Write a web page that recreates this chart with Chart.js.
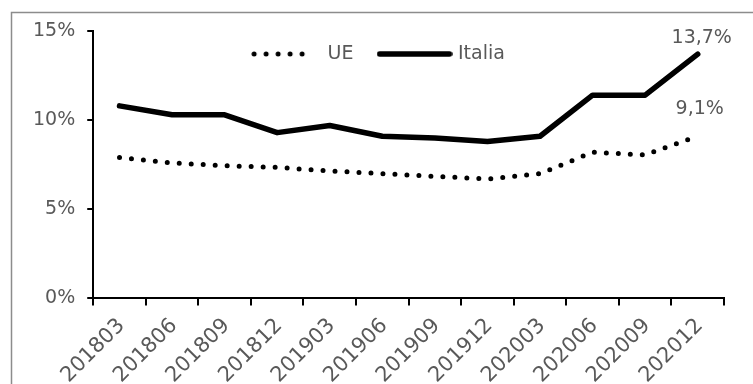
<!DOCTYPE html>
<html>
<head>
<meta charset="utf-8">
<script src="https://cdn.jsdelivr.net/npm/chart.js@4/dist/chart.umd.min.js"></script>
<style>
  html, body { margin: 0; padding: 0; background: #ffffff; }
  #wrap { position: relative; width: 753px; height: 384px; }
</style>
</head>
<body>
<div id="wrap"><canvas id="chart" width="753" height="384"></canvas></div>
<script>
// Quarterly rates, March 2018 to December 2020
const categories = ['201803', '201806', '201809', '201812', '201903', '201906',
                    '201909', '201912', '202003', '202006', '202009', '202012'];
const ueValues     = [7.9, 7.6, 7.45, 7.35, 7.15, 7.0, 6.85, 6.7, 7.0, 8.2, 8.05, 9.1];
const italiaValues = [10.8, 10.3, 10.3, 9.3, 9.7, 9.1, 9.0, 8.8, 9.1, 11.4, 11.4, 13.7];
const yTickValues  = [0, 5, 10, 15];

const textColor = '#595959';
const baseFont = { family: '"DejaVu Sans", sans-serif', size: 19 };
const xTickFont = { family: '"DejaVu Sans", sans-serif', size: 21 };

// Small line samples used as legend symbols
function lineSample(width, lineWidth, dash) {
  const c = document.createElement('canvas');
  c.width = width;
  c.height = 10;
  const g = c.getContext('2d');
  g.strokeStyle = '#000000';
  g.lineWidth = lineWidth;
  g.lineCap = 'round';
  g.setLineDash(dash);
  g.beginPath();
  g.moveTo(3, 5);
  g.lineTo(width - 3, 5);
  g.stroke();
  return c;
}
const ueSymbol = lineSample(66, 5, [0, 12]);
const italiaSymbol = lineSample(76, 5.5, []);

// Grey frame on the left and top edges
const framePlugin = {
  id: 'frame',
  beforeDraw(chart) {
    const ctx = chart.ctx;
    ctx.save();
    ctx.strokeStyle = '#8c8c8c';
    ctx.lineWidth = 1.5;
    ctx.beginPath();
    ctx.moveTo(11.5, chart.height + 5);
    ctx.lineTo(11.5, 12.5);
    ctx.lineTo(chart.width + 5, 12.5);
    ctx.stroke();
    ctx.restore();
  }
};

// Keep the legend row inside the plot, near its top
const legendPlacePlugin = {
  id: 'legendPlace',
  afterLayout(chart) {
    const lg = chart.legend;
    if (!lg) return;
    const pad = lg.options.labels.padding;
    lg.top = 54 - baseFont.size / 2 - pad;
    lg.bottom = lg.top + baseFont.size + 2 * pad + 4;
    lg.height = lg.bottom - lg.top;
    lg.left += 5;
    lg.right += 5;
  }
};

// Value labels on the last point of each series
const endLabelPlugin = {
  id: 'endLabels',
  afterDatasetsDraw(chart) {
    const ctx = chart.ctx;
    const shifts = [[2, -27], [4, -16]];
    ctx.save();
    ctx.font = baseFont.size + 'px ' + baseFont.family;
    ctx.fillStyle = textColor;
    ctx.textAlign = 'center';
    ctx.textBaseline = 'middle';
    chart.data.datasets.forEach((ds, i) => {
      const meta = chart.getDatasetMeta(i);
      const last = ds.data.length - 1;
      const pt = meta.data[last];
      const txt = ds.data[last].toFixed(1).replace('.', ',') + '%';
      ctx.fillText(txt, pt.x + shifts[i][0], pt.y + shifts[i][1]);
    });
    ctx.restore();
  }
};

new Chart(document.getElementById('chart'), {
  type: 'line',
  data: {
    labels: categories,
    datasets: [
      {
        label: 'UE',
        data: ueValues,
        borderColor: '#000000',
        backgroundColor: '#000000',
        borderWidth: 5,
        borderDash: [0, 12],
        borderCapStyle: 'round',
        borderJoinStyle: 'round',
        pointRadius: 0,
        pointStyle: ueSymbol,
        fill: false,
        tension: 0
      },
      {
        label: 'Italia',
        data: italiaValues,
        borderColor: '#000000',
        backgroundColor: '#000000',
        borderWidth: 5.5,
        borderCapStyle: 'round',
        borderJoinStyle: 'round',
        pointRadius: 0,
        pointStyle: italiaSymbol,
        fill: false,
        tension: 0
      }
    ]
  },
  options: {
    responsive: false,
    animation: false,
    devicePixelRatio: 1,
    layout: { padding: { left: 21, right: 29, top: 30, bottom: -12 } },
    plugins: {
      legend: {
        display: true,
        position: 'top',
        align: 'center',
        maxHeight: 1,
        labels: {
          usePointStyle: true,
          pointStyleWidth: 68,
          padding: 27,
          color: textColor,
          font: baseFont
        }
      },
      tooltip: { enabled: false }
    },
    scales: {
      x: {
        type: 'category',
        offset: true,
        grid: {
          offset: true,
          drawOnChartArea: false,
          drawTicks: true,
          tickLength: 7,
          color: '#000000',
          lineWidth: 2
        },
        border: { color: '#000000', width: 2 },
        ticks: {
          minRotation: 45,
          maxRotation: 45,
          autoSkip: false,
          labelOffset: 2,
          padding: 8,
          color: textColor,
          font: xTickFont
        }
      },
      y: {
        min: 0,
        max: 15,
        afterBuildTicks(scale) {
          scale.ticks = yTickValues.map(v => ({ value: v }));
        },
        grid: {
          drawOnChartArea: false,
          drawTicks: true,
          tickLength: 6,
          color: '#000000',
          lineWidth: 2
        },
        border: { color: '#000000', width: 2 },
        ticks: {
          padding: 12,
          color: textColor,
          font: baseFont,
          callback: v => v + '%'
        }
      }
    }
  },
  plugins: [framePlugin, legendPlacePlugin, endLabelPlugin]
});
</script>
</body>
</html>
